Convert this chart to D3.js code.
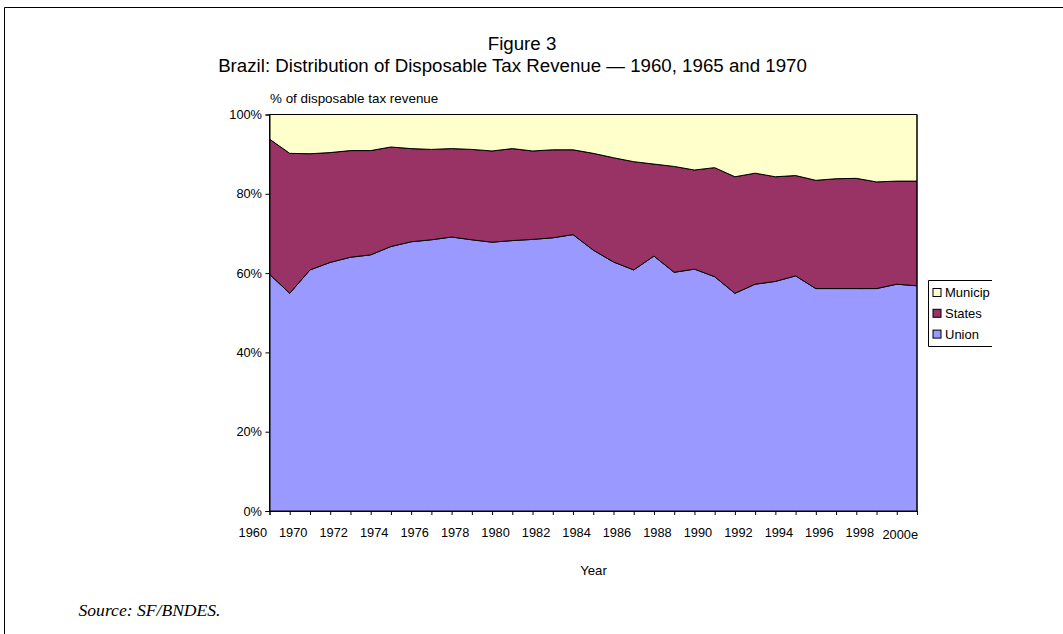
<!DOCTYPE html>
<html>
<head>
<meta charset="utf-8">
<script src="https://cdn.jsdelivr.net/npm/d3@7"></script>
<style>
  body { margin: 0; background: #fff; }
  text { font-family: Arial, "Liberation Sans", sans-serif; fill: #000; }
</style>
</head>
<body>
<div id="chart"></div>
<script>
var categories = ["1960","1965","1970","1971","1972","1973","1974","1975","1976","1977","1978",
                  "1979","1980","1981","1982","1983","1984","1985","1986","1987","1988","1989",
                  "1990","1991","1992","1993","1994","1995","1996","1997","1998","1999","2000e"];

// shares in % of disposable tax revenue
var union   = [59.7,54.9,60.8,62.7,64.0,64.6,66.7,67.9,68.4,69.1,68.4,67.8,68.2,68.5,68.9,69.7,65.8,
               62.8,60.8,64.3,60.2,61.0,59.1,54.9,57.2,57.9,59.3,56.1,56.1,56.1,56.1,57.2,56.8];
var states  = [34.1,35.3,29.3,27.7,26.9,26.3,25.1,23.5,22.8,22.3,22.8,23.0,23.2,22.3,22.2,21.4,24.4,
               26.3,27.3,23.2,26.7,25.0,27.5,29.4,28.0,26.4,25.3,27.3,27.7,27.8,26.9,26.0,26.4];
var municip = [6.2,9.8,9.9,9.6,9.1,9.1,8.2,8.6,8.8,8.6,8.8,9.2,8.6,9.2,8.9,8.9,9.8,
               10.9,11.9,12.5,13.1,14.0,13.4,15.7,14.8,15.7,15.4,16.6,16.2,16.1,17.0,16.8,16.8];

var seriesNames = ["Union","States","Municip"],
    legendOrder = ["Municip","States","Union"],
    yTicks = [0,20,40,60,80,100];

var colors = d3.scaleOrdinal()
    .domain(seriesNames)
    .range(["#9999FF","#993366","#FFFFCC"]);

var rows = categories.map(function(c, i) {
  return {year: c, Union: union[i], States: states[i], Municip: municip[i]};
});

var W = 1063, H = 634,
    plot = {left: 269.5, right: 917, top: 114.5, bottom: 511};

var svg = d3.select("#chart").append("svg")
    .attr("width", W)
    .attr("height", H);

svg.append("rect").attr("width", W).attr("height", H).attr("fill", "#fff");

// outer frame (clipped on right and bottom)
svg.append("path")
    .attr("d", "M" + W + ",7.5H4.5V" + H)
    .attr("fill", "none").attr("stroke", "#000").attr("stroke-width", 1);

var x = d3.scalePoint()
    .domain(categories)
    .range([plot.left, plot.right]);

var y = d3.scaleLinear()
    .domain([0, 100])
    .range([plot.bottom, plot.top]);

var stack = d3.stack().keys(seriesNames);
var layers = stack(rows);

var area = d3.area()
    .x(function(d) { return x(d.data.year); })
    .y0(function(d) { return y(d[0]); })
    .y1(function(d) { return y(d[1]); });

svg.selectAll("path.layer")
  .data(layers)
  .enter().append("path")
    .attr("class", "layer")
    .attr("d", area)
    .attr("fill", function(d) { return colors(d.key); })
    .attr("stroke", "#000")
    .attr("stroke-width", 1)
    .attr("stroke-linejoin", "round");

// plot frame top and right
svg.append("path")
    .attr("d", "M" + plot.left + "," + plot.top + "H" + plot.right + "V" + plot.bottom)
    .attr("fill", "none").attr("stroke", "#000").attr("stroke-width", 1);

// axes
var step = x.step();

var xAxis = svg.append("g")
    .attr("transform", "translate(0," + plot.bottom + ")")
    .call(d3.axisBottom(x)
      .tickSizeOuter(0)
      .tickSize(4)
      .tickFormat(function(d, i) { return i % 2 === 0 ? d : ""; }));

xAxis.select(".domain").attr("stroke", "#000");
xAxis.selectAll(".tick line").attr("stroke", "#000");
xAxis.selectAll(".tick text")
    .attr("x", -step + 3)
    .attr("y", 17)
    .attr("dy", function(d) { return d === "2000e" ? "0.86em" : "0.71em"; })
    .style("font-size", "12.8px")
    .style("font-family", "Arial, 'Liberation Sans', sans-serif")
    .attr("fill", "#000");

var yAxis = svg.append("g")
    .attr("transform", "translate(" + plot.left + ",0)")
    .call(d3.axisLeft(y)
      .tickValues(yTicks)
      .tickSizeOuter(0)
      .tickSize(4)
      .tickFormat(function(d) { return d + "%"; }));

yAxis.select(".domain").attr("stroke", "#000");
yAxis.selectAll(".tick line").attr("stroke", "#000");
yAxis.selectAll(".tick text")
    .attr("x", -7.5)
    .style("font-size", "12.8px")
    .style("font-family", "Arial, 'Liberation Sans', sans-serif")
    .attr("fill", "#000");

// titles
svg.append("text")
    .attr("x", 522).attr("y", 49.5)
    .attr("text-anchor", "middle")
    .style("font-size", "18.7px")
    .text("Figure 3");

svg.append("text")
    .attr("x", 512.5).attr("y", 71.5)
    .attr("text-anchor", "middle")
    .style("font-size", "18.7px")
    .text("Brazil: Distribution of Disposable Tax Revenue \u2014 1960, 1965 and 1970");

svg.append("text")
    .attr("x", 270).attr("y", 103)
    .style("font-size", "13.4px")
    .text("% of disposable tax revenue");

svg.append("text")
    .attr("x", 593.5).attr("y", 575)
    .attr("text-anchor", "middle")
    .style("font-size", "13.2px")
    .text("Year");

svg.append("text")
    .attr("x", 78.5).attr("y", 616)
    .style("font-family", "'Times New Roman', 'Liberation Serif', serif")
    .style("font-style", "italic")
    .style("font-size", "17.6px")
    .text("Source: SF/BNDES.");

// legend (right side clipped as in the original)
var legend = svg.append("g").attr("transform", "translate(928.5,280.5)");

legend.append("path")
    .attr("d", "M63.5,0H0V66H63.5")
    .attr("fill", "#fff")
    .attr("stroke", "#000")
    .attr("stroke-width", 1);

var item = legend.selectAll("g.item")
  .data(legendOrder)
  .enter().append("g")
    .attr("class", "item")
    .attr("transform", function(d, i) { return "translate(4.5," + (8 + i * 20.8) + ")"; });

item.append("rect")
    .attr("width", 8).attr("height", 8)
    .attr("fill", function(d) { return colors(d); })
    .attr("stroke", "#000")
    .attr("stroke-width", 1);

item.append("text")
    .attr("x", 12).attr("y", 8.5)
    .style("font-size", "13px")
    .text(function(d) { return d; });
</script>
</body>
</html>
